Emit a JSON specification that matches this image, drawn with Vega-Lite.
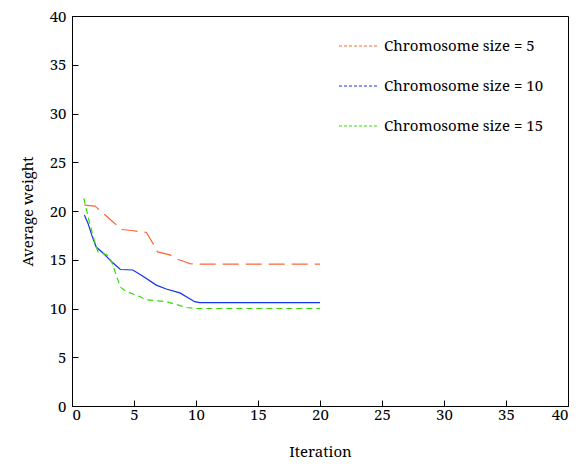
{
  "$schema": "https://vega.github.io/schema/vega-lite/v6.json",
  "width": 496,
  "height": 390,
  "autosize": {"type": "none"},
  "padding": {"left": 72, "top": 16, "right": 11, "bottom": 65},
  "background": "white",
  "config": {
    "view": {"stroke": "black", "strokeWidth": 1}
  },
  "data": {"values": [
    {"series": "Chromosome size = 5", "iteration": 1, "weight": 20.6},
    {"series": "Chromosome size = 5", "iteration": 1.85, "weight": 20.5},
    {"series": "Chromosome size = 5", "iteration": 2.5, "weight": 19.8},
    {"series": "Chromosome size = 5", "iteration": 3.2, "weight": 19.0},
    {"series": "Chromosome size = 5", "iteration": 4.0, "weight": 18.1},
    {"series": "Chromosome size = 5", "iteration": 4.8, "weight": 18.0},
    {"series": "Chromosome size = 5", "iteration": 5.35, "weight": 17.9},
    {"series": "Chromosome size = 5", "iteration": 6.0, "weight": 17.8},
    {"series": "Chromosome size = 5", "iteration": 6.56, "weight": 16.6},
    {"series": "Chromosome size = 5", "iteration": 6.9, "weight": 15.8},
    {"series": "Chromosome size = 5", "iteration": 7.9, "weight": 15.5},
    {"series": "Chromosome size = 5", "iteration": 8.4, "weight": 15.1},
    {"series": "Chromosome size = 5", "iteration": 9.1, "weight": 14.8},
    {"series": "Chromosome size = 5", "iteration": 9.5, "weight": 14.6},
    {"series": "Chromosome size = 5", "iteration": 10, "weight": 14.55},
    {"series": "Chromosome size = 5", "iteration": 20, "weight": 14.55},
    {"series": "Chromosome size = 10", "iteration": 1, "weight": 19.6},
    {"series": "Chromosome size = 10", "iteration": 1.3, "weight": 18.7},
    {"series": "Chromosome size = 10", "iteration": 1.6, "weight": 17.5},
    {"series": "Chromosome size = 10", "iteration": 1.95, "weight": 16.3},
    {"series": "Chromosome size = 10", "iteration": 2.5, "weight": 15.7},
    {"series": "Chromosome size = 10", "iteration": 3.2, "weight": 14.8},
    {"series": "Chromosome size = 10", "iteration": 3.9, "weight": 14.0},
    {"series": "Chromosome size = 10", "iteration": 4.9, "weight": 13.95},
    {"series": "Chromosome size = 10", "iteration": 5.6, "weight": 13.4},
    {"series": "Chromosome size = 10", "iteration": 6.8, "weight": 12.4},
    {"series": "Chromosome size = 10", "iteration": 7.6, "weight": 12.0},
    {"series": "Chromosome size = 10", "iteration": 8.7, "weight": 11.6},
    {"series": "Chromosome size = 10", "iteration": 9.9, "weight": 10.7},
    {"series": "Chromosome size = 10", "iteration": 10.3, "weight": 10.6},
    {"series": "Chromosome size = 10", "iteration": 20, "weight": 10.6},
    {"series": "Chromosome size = 15", "iteration": 0.95, "weight": 21.3},
    {"series": "Chromosome size = 15", "iteration": 1.3, "weight": 19.4},
    {"series": "Chromosome size = 15", "iteration": 1.7, "weight": 17.4},
    {"series": "Chromosome size = 15", "iteration": 2.1, "weight": 15.8},
    {"series": "Chromosome size = 15", "iteration": 2.8, "weight": 15.5},
    {"series": "Chromosome size = 15", "iteration": 3.2, "weight": 14.8},
    {"series": "Chromosome size = 15", "iteration": 3.6, "weight": 13.3},
    {"series": "Chromosome size = 15", "iteration": 3.9, "weight": 12.2},
    {"series": "Chromosome size = 15", "iteration": 4.3, "weight": 11.8},
    {"series": "Chromosome size = 15", "iteration": 5.5, "weight": 11.2},
    {"series": "Chromosome size = 15", "iteration": 6.0, "weight": 10.9},
    {"series": "Chromosome size = 15", "iteration": 7.6, "weight": 10.7},
    {"series": "Chromosome size = 15", "iteration": 9.25, "weight": 10.1},
    {"series": "Chromosome size = 15", "iteration": 10, "weight": 10.0},
    {"series": "Chromosome size = 15", "iteration": 20, "weight": 10.0}
  ]},
  "encoding": {
    "x": {"field": "iteration", "type": "quantitative", "scale": {"domain": [0, 40], "nice": false},
          "axis": {"title": "Iteration", "values": [0,5,10,15,20,25,30,35,40], "grid": false,
            "labelFont": "Noto Serif", "labelFontSize": 15, "labelColor": "black",
            "titleFont": "Noto Serif", "titleFontSize": 15, "titleFontWeight": "normal", "titleColor": "black",
            "domainColor": "black", "ticks": true, "tickColor": "black", "tickWidth": 1, "tickSize": -6,
            "labelPadding": 7, "titlePadding": 22}},
    "y": {"field": "weight", "type": "quantitative", "scale": {"domain": [0, 40], "nice": false},
          "axis": {"title": "Average weight", "values": [0,5,10,15,20,25,30,35,40], "grid": false,
            "labelFont": "Noto Serif", "labelFontSize": 15, "labelColor": "black",
            "titleFont": "Noto Serif", "titleFontSize": 15, "titleFontWeight": "normal", "titleColor": "black",
            "domainColor": "black", "ticks": true, "tickColor": "black", "tickWidth": 1, "tickSize": -6,
            "labelPadding": 12, "titlePadding": 14}},
    "color": {"field": "series", "type": "nominal",
      "scale": {"domain": ["Chromosome size = 5", "Chromosome size = 10", "Chromosome size = 15"], "range": ["#ff6633", "#1133ee", "#33dd00"]},
      "legend": {"title": null, "orient": "none", "legendX": 266, "legendY": 10, "symbolType": "stroke", "symbolSize": 1444, "symbolStrokeWidth": 1.2, "symbolDash": [3, 2], "labelFont": "Noto Serif", "labelFontSize": 15, "labelLimit": 300, "labelColor": "black", "rowPadding": 12, "labelOffset": 6}}
  },
  "layer": [
    {
      "transform": [{"filter": "datum.series === 'Chromosome size = 5'"}],
      "mark": {"type": "line", "strokeWidth": 1.2, "strokeDash": [16, 7]}
    },
    {
      "transform": [{"filter": "datum.series === 'Chromosome size = 10'"}],
      "mark": {"type": "line", "strokeWidth": 1.2}
    },
    {
      "transform": [{"filter": "datum.series === 'Chromosome size = 15'"}],
      "mark": {"type": "line", "strokeWidth": 1.2, "strokeDash": [6, 4]}
    }
  ]
}
